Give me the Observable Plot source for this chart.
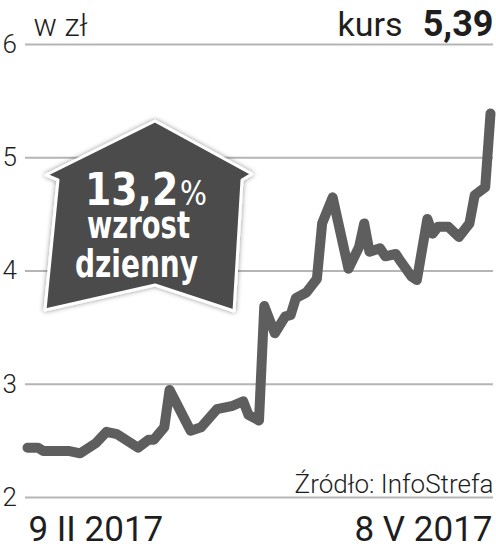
<!DOCTYPE html>
<html><head><meta charset="utf-8">
<script src="https://cdn.jsdelivr.net/npm/d3@7"></script>
<script src="https://cdn.jsdelivr.net/npm/@observablehq/plot@0.6"></script>
<style>body{margin:0;background:#fff} #chart svg{display:block}</style>
</head><body><div id="chart"></div>
<script>
const dates = ["2017-02-09","2017-02-11","2017-02-12","2017-02-17","2017-02-19","2017-02-22","2017-02-24","2017-02-26",
  "2017-03-02","2017-03-04","2017-03-05","2017-03-07","2017-03-08","2017-03-12","2017-03-14","2017-03-17","2017-03-20",
  "2017-03-22","2017-03-23","2017-03-25","2017-03-26","2017-03-28","2017-03-30","2017-03-31","2017-04-01","2017-04-03",
  "2017-04-05","2017-04-06","2017-04-08","2017-04-11","2017-04-13","2017-04-14","2017-04-15","2017-04-17","2017-04-18",
  "2017-04-20","2017-04-21","2017-04-23","2017-04-24","2017-04-26","2017-04-27","2017-04-28","2017-04-30","2017-05-02",
  "2017-05-04","2017-05-05","2017-05-07","2017-05-08"];
const prices = [2.44,2.44,2.41,2.41,2.39,2.48,2.58,2.56,
  2.44,2.51,2.51,2.62,2.95,2.59,2.62,2.78,2.81,
  2.85,2.73,2.68,3.69,3.45,3.60,3.61,3.76,3.81,
  3.93,4.42,4.65,4.02,4.21,4.42,4.17,4.20,4.13,
  4.15,4.08,3.95,3.92,4.46,4.33,4.39,4.39,4.30,
  4.42,4.67,4.74,5.39];
const yTicks = [2,3,4,5,6];
const unitLabel = "w zł";
const kursLabel = "kurs";
const kursValue = "5,39";
const sourceLabel = "Źródło: InfoStrefa";
const startLabel = "9 II 2017";
const endLabel = "8 V 2017";
const badgeValue = "13,2";
const badgeUnit = "%";
const badgeLine2 = "wzrost";
const badgeLine3 = "dzienny";

const data = dates.map((d, i) => ({date: new Date(d), price: prices[i]}));
const FF = "Roboto, 'Open Sans', sans-serif";
const BF = "'Liberation Sans Narrow', 'DejaVu Sans Condensed', Roboto, sans-serif";
const ink = "#1e1e1e";

const chart = Plot.plot({
  width: 496, height: 549,
  marginLeft: 25, marginRight: 3, marginTop: 44, marginBottom: 52,
  style: {fontFamily: FF, background: "#fff"},
  x: {type: "utc", domain: [new Date(dates[0]), new Date(dates[dates.length - 1])], insetLeft: 2, insetRight: 3, axis: null},
  y: {domain: [2, 6], axis: null},
  marks: [
    Plot.ruleY(yTicks, {stroke: "#b5b5b5", strokeWidth: 2}),
    Plot.text(yTicks, {y: d => d, text: d => String(d), frameAnchor: "left", textAnchor: "start", dx: -23, fontSize: 26, fontWeight: 300, fill: ink, fontFamily: FF}),
    Plot.line(data, {x: "date", y: "price", stroke: "#5e5e5e", strokeWidth: 10, strokeLinejoin: "round", strokeLinecap: "round"}),
    Plot.text([unitLabel], {text: d => d, frameAnchor: "top-left", textAnchor: "start", lineAnchor: "bottom", dx: 8, dy: -9, fontSize: 31, fontWeight: 300, fill: ink, fontFamily: FF}),
    Plot.text([kursLabel], {text: d => d, frameAnchor: "top-right", textAnchor: "end", lineAnchor: "bottom", dx: -91, dy: -9, fontSize: 34, fontWeight: 400, fill: ink, fontFamily: FF}),
    Plot.text([kursValue], {text: d => d, frameAnchor: "top-right", textAnchor: "end", lineAnchor: "bottom", dx: 0, dy: -9, fontSize: 36, fontWeight: 700, fill: ink, fontFamily: FF}),
    Plot.text([sourceLabel], {text: d => d, frameAnchor: "bottom-right", textAnchor: "end", lineAnchor: "bottom", dx: 0, dy: -5, fontSize: 26, fontWeight: 300, fill: ink, fontFamily: FF}),
    Plot.text([startLabel], {text: d => d, frameAnchor: "bottom-left", textAnchor: "start", lineAnchor: "bottom", dx: 3, dy: 43, fontSize: 35, fontWeight: 400, fill: ink, fontFamily: FF}),
    Plot.text([endLabel], {text: d => d, frameAnchor: "bottom-right", textAnchor: "end", lineAnchor: "bottom", dx: -1, dy: 43, fontSize: 35, fontWeight: 400, fill: ink, fontFamily: FF})
  ]
});
document.getElementById("chart").appendChild(chart);

// Annotation badge (decorative arrow-house shape)
const svg = d3.select(chart);
const defs = svg.append("defs");
const f = defs.append("filter").attr("id", "shadow").attr("x", "-20%").attr("y", "-20%").attr("width", "140%").attr("height", "140%");
f.append("feDropShadow").attr("dx", 0).attr("dy", 0).attr("stdDeviation", 2.5).attr("flood-color", "#000").attr("flood-opacity", 0.45);
const g = svg.append("g").attr("text-anchor", "start");
g.append("path")
  .attr("d", "M155,121 L252,174 L242,180 L234,311 L155,285 L45,310 L58,180 L46,175 Z")
  .attr("fill", "#4b4b4b").attr("stroke", "#fff").attr("stroke-width", 3).attr("stroke-linejoin", "round")
  .attr("filter", "url(#shadow)");
function badgeText(x, y, size, weight, len) {
  return g.append("text").attr("x", x).attr("y", y).attr("text-anchor", "start")
    .attr("font-family", BF).attr("font-weight", weight).attr("font-size", size)
    .attr("fill", "#fff").attr("textLength", len).attr("lengthAdjust", "spacingAndGlyphs");
}
const t1 = badgeText(85, 205, 44, 700, 122);
t1.append("tspan").text(badgeValue);
t1.append("tspan").attr("font-weight", 400).attr("font-size", 33).attr("dx", 2).text(badgeUnit);
badgeText(87, 238, 37, 700, 103).text(badgeLine2);
badgeText(75, 277, 37, 700, 123).text(badgeLine3);
</script>
</body></html>
